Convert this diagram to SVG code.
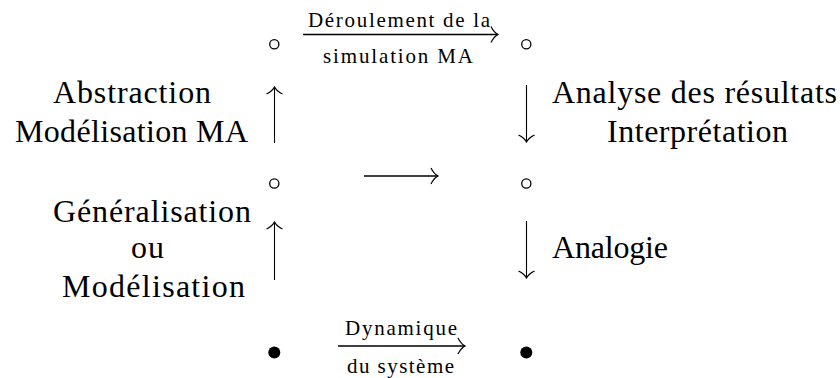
<svg xmlns="http://www.w3.org/2000/svg" width="840" height="378" viewBox="0 0 840 378">
<style>
  .lbl { font-family: "Liberation Serif", "DejaVu Serif", serif; font-size: 32px; fill: #000; }
  .sm { font-family: "Liberation Serif", "DejaVu Serif", serif; font-size: 21px; fill: #000; }
  .h { stroke: #000; stroke-width: 1.7; fill: none; }
  .v { stroke: #000; stroke-width: 1.1; fill: none; }
  .open { fill: #fff; stroke: #000; stroke-width: 1.3; }
  .full { fill: #000; }
</style>
<defs>
  <marker id="chev" markerUnits="userSpaceOnUse" viewBox="-10 -9 12 18" refX="0" refY="0" markerWidth="12" markerHeight="18" orient="auto" overflow="visible">
    <path d="M-7,-8 Q-4,-2 0,0 Q-4,2 -7,8" fill="none" stroke="#000" stroke-width="1.2"/>
  </marker>
</defs>
<g id="connectors">
  <line class="h" x1="303" y1="34.5" x2="498" y2="34.5" marker-end="url(#chev)"/>
  <line class="h" x1="364" y1="176" x2="438" y2="176" marker-end="url(#chev)"/>
  <line class="h" x1="338" y1="346" x2="465" y2="346" marker-end="url(#chev)"/>
  <line class="v" x1="274.5" y1="143" x2="274.5" y2="87" marker-end="url(#chev)"/>
  <line class="v" x1="526.5" y1="85" x2="526.5" y2="142" marker-end="url(#chev)"/>
  <line class="v" x1="274.5" y1="280" x2="274.5" y2="222" marker-end="url(#chev)"/>
  <line class="v" x1="526.5" y1="221" x2="526.5" y2="278" marker-end="url(#chev)"/>
</g>
<g id="n1"><circle class="open" cx="274.3" cy="44.3" r="4.6"/></g>
<g id="n2"><circle class="open" cx="526.3" cy="44.3" r="4.6"/></g>
<g id="n3"><circle class="open" cx="274.3" cy="183.5" r="4.6"/></g>
<g id="n4"><circle class="open" cx="526.3" cy="183.5" r="4.6"/></g>
<g id="n5"><circle class="full" cx="274.3" cy="352.5" r="6"/></g>
<g id="n6"><circle class="full" cx="526.3" cy="352.5" r="6"/></g>
<g id="labels">
  <text class="sm" x="308" y="27" textLength="182" lengthAdjust="spacing">Déroulement de la</text>
  <text class="sm" x="323" y="63" textLength="150" lengthAdjust="spacing">simulation MA</text>
  <text class="sm" x="345" y="335" textLength="112" lengthAdjust="spacing">Dynamique</text>
  <text class="sm" x="347" y="373" textLength="107" lengthAdjust="spacing">du système</text>
  <text class="lbl" x="53" y="103" textLength="158" lengthAdjust="spacing">Abstraction</text>
  <text class="lbl" x="15" y="142" textLength="233" lengthAdjust="spacing">Modélisation MA</text>
  <text class="lbl" x="53" y="222" textLength="198" lengthAdjust="spacing">Généralisation</text>
  <text class="lbl" x="148" y="258" text-anchor="middle" letter-spacing="1">ou</text>
  <text class="lbl" x="62" y="297" textLength="183" lengthAdjust="spacing">Modélisation</text>
  <text class="lbl" x="552" y="103" textLength="285" lengthAdjust="spacing">Analyse des résultats</text>
  <text class="lbl" x="607" y="142" textLength="181" lengthAdjust="spacing">Interprétation</text>
  <text class="lbl" x="552" y="258" textLength="116" lengthAdjust="spacing">Analogie</text>
</g>
</svg>
